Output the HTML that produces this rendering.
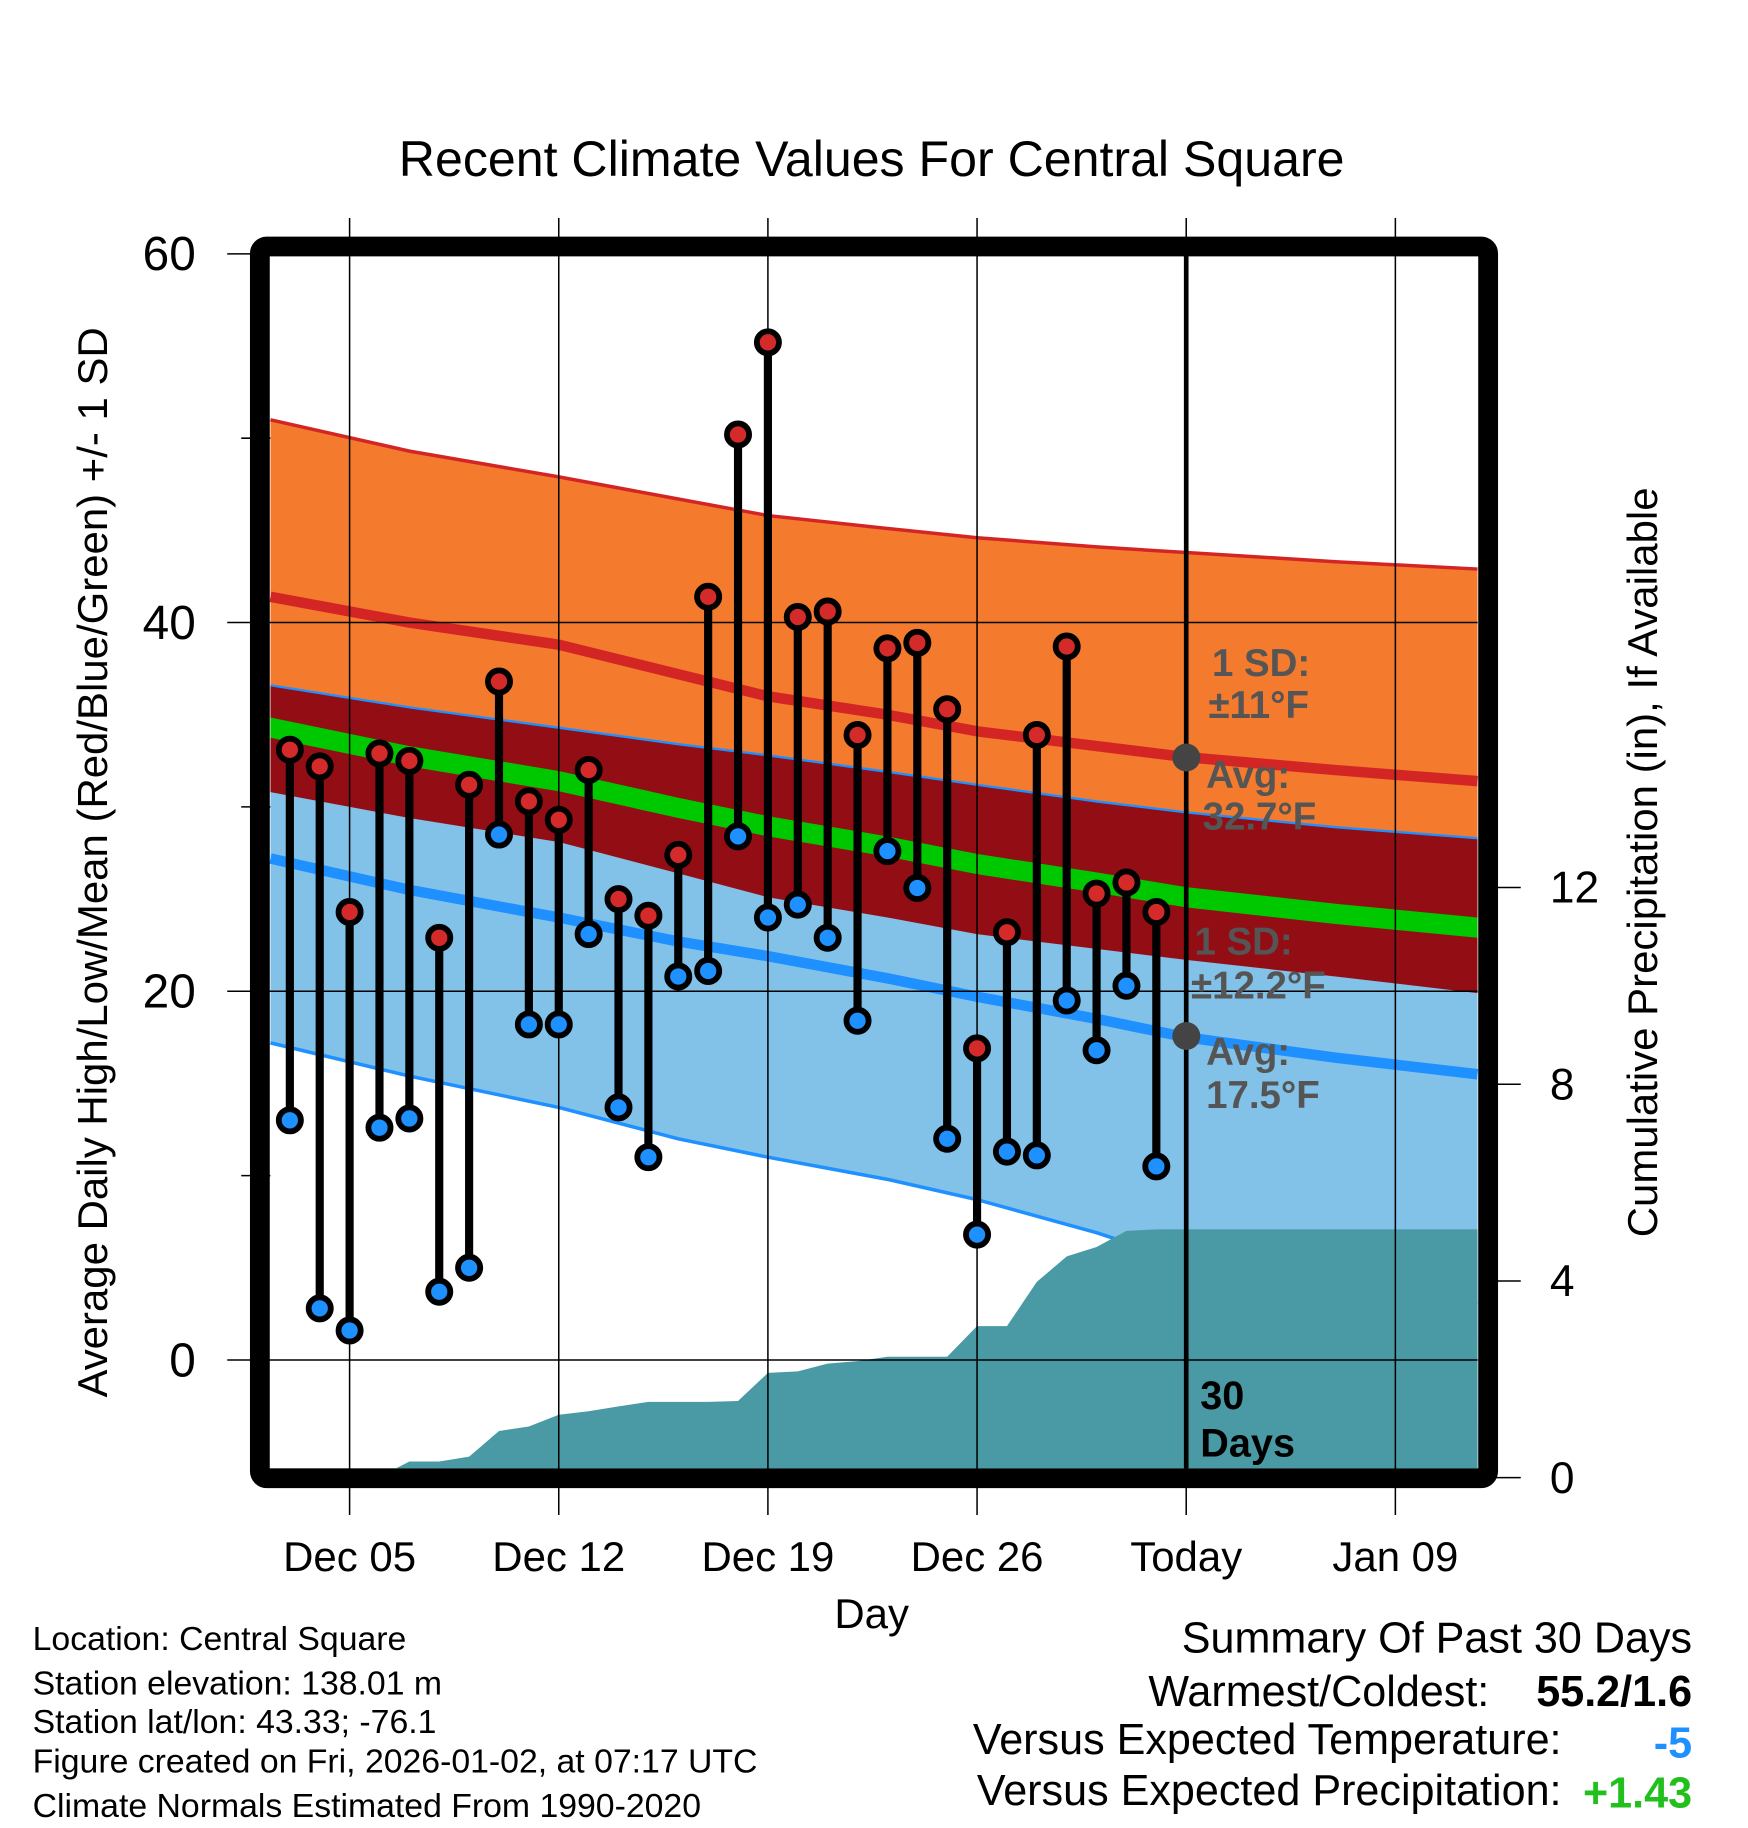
<!DOCTYPE html>
<html><head><meta charset="utf-8"><style>
html,body{margin:0;padding:0;background:#fff}
svg{display:block}
text{font-family:"Liberation Sans",Arial,sans-serif}
</style></head><body>
<svg id="chart" width="1748" height="1828" viewBox="0 0 1500 1568.6" xmlns="http://www.w3.org/2000/svg">
<g id="bands"></g><g id="precip"></g><g id="grid"></g><g id="marks"></g><g id="overlay"></g>
</svg>
<script>
// ---- data ----
const dayNums = [3,4,5,6,7,8,9,10,11,12,13,14,15,16,17,18,19,20,21,22,23,24,25,26,27,28,29,30,31,32];
const highs = [33.1,32.2,24.3,32.9,32.5,22.9,31.2,36.8,30.3,29.3,32.0,25.0,24.1,27.4,41.4,50.2,55.2,40.3,40.6,33.9,38.6,38.9,35.3,16.9,23.2,33.9,38.7,25.3,25.9,24.3];
const lows = [13.0,2.8,1.6,12.6,13.1,3.7,5.0,28.5,18.2,18.2,23.1,13.7,11.0,20.8,21.1,28.4,24.0,24.7,22.9,18.4,27.6,25.6,12.0,6.8,11.3,11.1,19.5,16.8,20.3,10.5];
const normDays = [2.35,7,12,16,19,23,26,30,33,38,42.75];
const highUpper = [51.0,49.3,47.9,46.7,45.8,45.1,44.6,44.1,43.8,43.3,42.9];
const highMean = [41.4,40.0,38.8,37.2,36.0,35.0,34.1,33.3,32.7,32.0,31.4];
const highLower = [30.8,29.4,28.1,26.4,25.1,24.0,23.1,22.3,21.7,20.8,19.9];
const lowUpper = [36.6,35.4,34.3,33.4,32.8,31.9,31.2,30.3,29.7,28.9,28.3];
const lowMean = [27.2,25.5,24.0,22.7,21.9,20.7,19.7,18.5,17.5,16.4,15.5];
const lowLower = [17.2,15.4,13.7,12.0,11.0,9.8,8.7,6.9,5.3,4.0,3.0];
const precipDays = [3,4,5,6,7,8,9,10,11,12,13,14,15,16,17,18,19,20,21,22,23,24,25,26,27,28,29,30,31,32,33];
const precipVals = [0,0,0,0.02,0.33,0.33,0.43,0.95,1.04,1.28,1.35,1.45,1.54,1.54,1.54,1.56,2.13,2.16,2.32,2.37,2.46,2.46,2.46,3.08,3.08,3.98,4.5,4.69,5.02,5.05,5.05];
const xTickDays = [5,12,19,26,33,40];
const xTickLabels = ["Dec 05","Dec 12","Dec 19","Dec 26","Today","Jan 09"];
const yTicks = [0,20,40,60];
const yMinor = [10,30,50];
const pTicks = [0,4,8,12];

// ---- scales ----
const L=232,R=1268,T=224,B=1260;
const xs = d => 300 + (d-5)*25.64;
const ys = v => 1167 - v*15.82;
const ps = v => 1268 - v*42.2;
const NS="http://www.w3.org/2000/svg";
function mk(tag,attrs,parent,txt){const e=document.createElementNS(NS,tag);for(const k in attrs)e.setAttribute(k,attrs[k]);if(txt!==undefined)e.textContent=txt;parent.appendChild(e);return e;}
function pts(days,vals,sy){return days.map((d,i)=>xs(d).toFixed(1)+','+sy(vals[i]).toFixed(1));}
function band(upper,lower,fill,name){
  const p=pts(normDays,upper,ys).concat(pts(normDays,lower,ys).reverse());
  const e=mk('polygon',{points:p.join(' '),fill:fill},document.getElementById('bands'));
  
  
}
function line(vals,color,w,name){
  const e=mk('polyline',{points:pts(normDays,vals,ys).join(' '),fill:'none',stroke:color,'stroke-width':w,'stroke-linejoin':'round'},document.getElementById('bands'));
  
  
}
const gMean = highMean.map((v,i)=>(v+lowMean[i])/2);
const gUp = gMean.map(v=>v+0.55), gLo = gMean.map(v=>v-0.55);
band(highUpper,highLower,'#f47a2e','high-sd-band');
band(lowUpper,lowLower,'#82c1e8','low-sd-band');
band(lowUpper,highLower,'#920e14','overlap-band');
band(gUp,gLo,'#00c800','mean-band');
line(highUpper,'#d42525',3,'high-upper-line');
line(highMean,'#d42525',9,'high-mean-line');
line(lowUpper,'#1e90ff',2,'low-upper-line');
line(lowMean,'#1e90ff',9,'low-mean-line');
line(lowLower,'#1e90ff',3,'low-lower-line');

// precip
{
 const pd=precipDays.concat([42.75]), pv=precipVals.concat([precipVals[precipVals.length-1]]);
 const p=[L+','+B].concat(pts(pd,pv,ps)).concat([R+','+B]);
 const e=mk('polygon',{points:p.join(' '),fill:'#4a9aa5'},document.getElementById('precip'));
 
 
}

// grid + axes
const G=document.getElementById('grid');
xTickDays.forEach((d,i)=>{
  const x=xs(d);
  mk('line',{x1:x,y1:187,x2:x,y2:1300,stroke:'#000','stroke-width':1.3},G);
  const t=mk('text',{x:x,y:1348,'font-size':36,'text-anchor':'middle'},G,xTickLabels[i]);
  
  
});
yTicks.forEach(v=>{
  const y=ys(v);
  mk('line',{x1:195,y1:y,x2:R,y2:y,stroke:'#000','stroke-width':1.3},G);
  const t=mk('text',{x:168,y:y+14,'font-size':41,'text-anchor':'end'},G,String(v));
  
  
});
yMinor.forEach(v=>{const y=ys(v);mk('line',{x1:207,y1:y,x2:L,y2:y,stroke:'#000','stroke-width':1.3},G);});
pTicks.forEach(v=>{
  const y=ps(v);
  mk('line',{x1:1277,y1:y,x2:1305,y2:y,stroke:'#000','stroke-width':1.3},G);
  const t=mk('text',{x:1330,y:y+13,'font-size':38},G,String(v));
  
  
});
// today line
mk('line',{x1:xs(33),y1:T-5,x2:xs(33),y2:B,stroke:'#000','stroke-width':4},G);

// marks
const M=document.getElementById('marks');
dayNums.forEach((d,i)=>{
  const x=xs(d);
  const s=mk('line',{x1:x,y1:ys(highs[i]),x2:x,y2:ys(lows[i]),stroke:'#000','stroke-width':7},M);
  
  
});
dayNums.forEach((d,i)=>{
  const x=xs(d);
  const h=mk('circle',{cx:x,cy:ys(highs[i]),r:9.5,fill:'#d42a2a',stroke:'#000','stroke-width':5},M);
  
  
  const l=mk('circle',{cx:x,cy:ys(lows[i]),r:9.5,fill:'#1e90ff',stroke:'#000','stroke-width':5},M);
  
  
});
</script>
<script>
(function(){
const NS="http://www.w3.org/2000/svg",O=document.getElementById('overlay');
function t(x,y,s,txt,name,extra){const e=document.createElementNS(NS,'text');e.setAttribute('x',x);e.setAttribute('y',y);e.setAttribute('font-size',s);for(const k in (extra||{}))e.setAttribute(k,extra[k]);e.textContent=txt;


O.appendChild(e);return e;}
function c(cx,cy){const e=document.createElementNS(NS,'circle');e.setAttribute('cx',cx);e.setAttribute('cy',cy);e.setAttribute('r',12);e.setAttribute('fill','#444');


O.appendChild(e);}
c(1018,650);c(1018,889);
const g={fill:'#555','font-weight':'bold'};
t(1040,580,33,'1 SD:','high-sd-label',g);
t(1037,616,33,'±11°F','high-sd-value',g);
t(1035,676,33,'Avg:','high-avg-label',g);
t(1032,712,33,'32.7°F','high-avg-value',g);
t(1025,819,33,'1 SD:','low-sd-label',g);
t(1022,857,33,'±12.2°F','low-sd-value',g);
t(1035,914,33,'Avg:','low-avg-label',g);
t(1035,951,33,'17.5°F','low-avg-value',g);
t(1030,1209,34,'30','days-label',{'font-weight':'bold'});
t(1030,1250,34,'Days','days-label-2',{'font-weight':'bold'});
// border
const r=document.createElementNS(NS,'rect');
r.setAttribute('x',223);r.setAttribute('y',211.5);r.setAttribute('width',1054);r.setAttribute('height',1057);r.setAttribute('rx',6);
r.setAttribute('fill','none');r.setAttribute('stroke','#000');r.setAttribute('stroke-width',17);


O.appendChild(r);
t(748,151,43,'Recent Climate Values For Central Square','chart-title',{'text-anchor':'middle'});
t(748,1397,36,'Day','x-axis-title',{'text-anchor':'middle'});
t(92,740,36,'Average Daily High/Low/Mean (Red/Blue/Green) +/- 1 SD','y-axis-title',{'text-anchor':'middle',transform:'rotate(-90 92 740)'});
t(1422,740,36,'Cumulative Precipitation (in), If Available','precip-axis-title',{'text-anchor':'middle',transform:'rotate(-90 1422 740)'});
t(28,1416,29,'Location: Central Square','location-text');
t(28,1454,29,'Station elevation: 138.01 m','elevation-text');
t(28,1487,29,'Station lat/lon: 43.33; -76.1','latlon-text');
t(28,1521,29,'Figure created on Fri, 2026-01-02, at 07:17 UTC','created-text');
t(28,1559,29,'Climate Normals Estimated From 1990-2020','normals-text');
const e={'text-anchor':'end'};
t(1452,1418,37,'Summary Of Past 30 Days','summary-title',e);
t(1278,1464,37,'Warmest/Coldest:','warmest-coldest-label',e);
t(1452,1464,37,'55.2/1.6','warmest-coldest-value',{'text-anchor':'end','font-weight':'bold'});
t(1340,1505,37,'Versus Expected Temperature:','temp-anomaly-label',e);
t(1452,1508,37,'-5','temp-anomaly-value',{'text-anchor':'end','font-weight':'bold',fill:'#1e90ff'});
t(1340,1549,37,'Versus Expected Precipitation:','precip-anomaly-label',e);
t(1452,1551,37,'+1.43','precip-anomaly-value',{'text-anchor':'end','font-weight':'bold',fill:'#22c01c'});
})();
</script>
</body></html>
